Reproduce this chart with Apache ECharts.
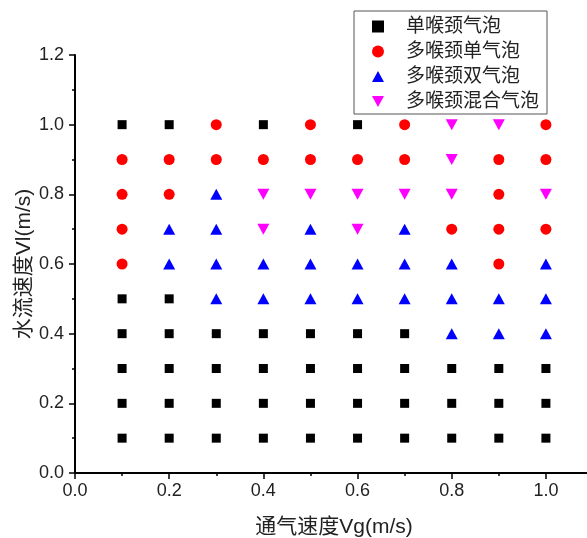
<!DOCTYPE html>
<html>
<head>
<meta charset="utf-8">
<script src="https://cdn.jsdelivr.net/npm/echarts@6/dist/echarts.min.js"></script>
<style>html,body{margin:0;padding:0;background:#fff}#c{width:587px;height:538px}</style>
</head>
<body>
<div id="c"></div>
<script>
// Series names
var seriesNames = ['单喉颈气泡', '多喉颈单气泡', '多喉颈双气泡', '多喉颈混合气泡'];
// Axis titles
var xName = '通气速度Vg(m/s)';
var yName = '水流速度Vl(m/s)';
// [Vg, Vl] points per flow pattern
var singleThroat = [
  [0.1,1.0],[0.2,1.0],[0.4,1.0],[0.6,1.0],
  [0.1,0.5],[0.2,0.5],
  [0.1,0.4],[0.2,0.4],[0.3,0.4],[0.4,0.4],[0.5,0.4],[0.6,0.4],[0.7,0.4],
  [0.1,0.3],[0.2,0.3],[0.3,0.3],[0.4,0.3],[0.5,0.3],[0.6,0.3],[0.7,0.3],[0.8,0.3],[0.9,0.3],[1.0,0.3],
  [0.1,0.2],[0.2,0.2],[0.3,0.2],[0.4,0.2],[0.5,0.2],[0.6,0.2],[0.7,0.2],[0.8,0.2],[0.9,0.2],[1.0,0.2],
  [0.1,0.1],[0.2,0.1],[0.3,0.1],[0.4,0.1],[0.5,0.1],[0.6,0.1],[0.7,0.1],[0.8,0.1],[0.9,0.1],[1.0,0.1]
];
var multiSingle = [
  [0.3,1.0],[0.5,1.0],[0.7,1.0],[1.0,1.0],
  [0.1,0.9],[0.2,0.9],[0.3,0.9],[0.4,0.9],[0.5,0.9],[0.6,0.9],[0.7,0.9],[0.9,0.9],[1.0,0.9],
  [0.1,0.8],[0.2,0.8],[0.9,0.8],
  [0.1,0.7],[0.8,0.7],[0.9,0.7],[1.0,0.7],
  [0.1,0.6],[0.9,0.6]
];
var multiDouble = [
  [0.3,0.8],
  [0.2,0.7],[0.3,0.7],[0.5,0.7],[0.7,0.7],
  [0.2,0.6],[0.3,0.6],[0.4,0.6],[0.5,0.6],[0.6,0.6],[0.7,0.6],[0.8,0.6],[1.0,0.6],
  [0.3,0.5],[0.4,0.5],[0.5,0.5],[0.6,0.5],[0.7,0.5],[0.8,0.5],[0.9,0.5],[1.0,0.5],
  [0.8,0.4],[0.9,0.4],[1.0,0.4]
];
var multiMixed = [
  [0.8,1.0],[0.9,1.0],
  [0.8,0.9],
  [0.4,0.8],[0.5,0.8],[0.6,0.8],[0.7,0.8],[0.8,0.8],[1.0,0.8],
  [0.4,0.7],[0.6,0.7]
];

var FONT = '"Liberation Sans", Arial, "Noto Sans CJK SC", sans-serif';
var chart = echarts.init(document.getElementById('c'), null, {renderer: 'canvas'});
var triDown = 'path://M0,0 L10,0 L5,9 Z';
var triUp = 'path://M5,0 L10,9 L0,9 Z';
var axisCommon = {
  axisLine: {show: true, onZero: false, lineStyle: {color: '#000', width: 2}},
  axisTick: {show: true, inside: false, length: 6, lineStyle: {color: '#000', width: 1.5}},
  minorTick: {show: true, splitNumber: 2, length: 3, lineStyle: {color: '#000', width: 1.5}},
  splitLine: {show: false},
  nameLocation: 'middle',
  nameMoveOverlap: false,
  nameTextStyle: {fontSize: 21, color: '#222', fontFamily: FONT}
};
chart.setOption({
  animation: false,
  backgroundColor: '#fff',
  grid: {left: 75, top: 55, width: 518, height: 418, containLabel: false, outerBoundsMode: 'none'},
  legend: {
    orient: 'vertical', left: 354, top: 11,
    borderColor: '#555', borderWidth: 1, borderRadius: 0,
    padding: [6, 8, 3, 18],
    itemWidth: 12, itemHeight: 12, itemGap: 6,
    textStyle: {fontSize: 19, color: '#222', fontFamily: FONT, padding: [0, 0, 0, 17]},
    data: [
      {name: seriesNames[0], icon: 'rect'},
      {name: seriesNames[1], icon: 'circle'},
      {name: seriesNames[2], icon: triUp},
      {name: seriesNames[3], icon: triDown}
    ]
  },
  xAxis: Object.assign({}, axisCommon, {
    type: 'value', min: 0, max: 1.1, interval: 0.2,
    name: xName, nameGap: 44,
    axisLabel: {fontSize: 18, color: '#222', fontFamily: FONT, margin: 9, showMaxLabel: false,
      formatter: function (v) { return v.toFixed(1); }}
  }),
  yAxis: Object.assign({}, axisCommon, {
    type: 'value', min: 0, max: 1.2, interval: 0.2,
    name: yName, nameGap: 40,
    axisLabel: {fontSize: 18, color: '#222', fontFamily: FONT, margin: 11,
      formatter: function (v) { return v.toFixed(1); }}
  }),
  series: [
    {name: seriesNames[0], type: 'scatter', symbol: 'rect', symbolSize: 9, data: singleThroat, itemStyle: {color: '#000', opacity: 1}},
    {name: seriesNames[1], type: 'scatter', symbol: 'circle', symbolSize: 11, data: multiSingle, itemStyle: {color: '#ff0000', opacity: 1}},
    {name: seriesNames[2], type: 'scatter', symbol: triUp, symbolSize: [12, 11], data: multiDouble, itemStyle: {color: '#0000ff', opacity: 1}},
    {name: seriesNames[3], type: 'scatter', symbol: triDown, symbolSize: [12, 11], data: multiMixed, itemStyle: {color: '#ff00ff', opacity: 1}}
  ]
});
</script>
</body>
</html>
